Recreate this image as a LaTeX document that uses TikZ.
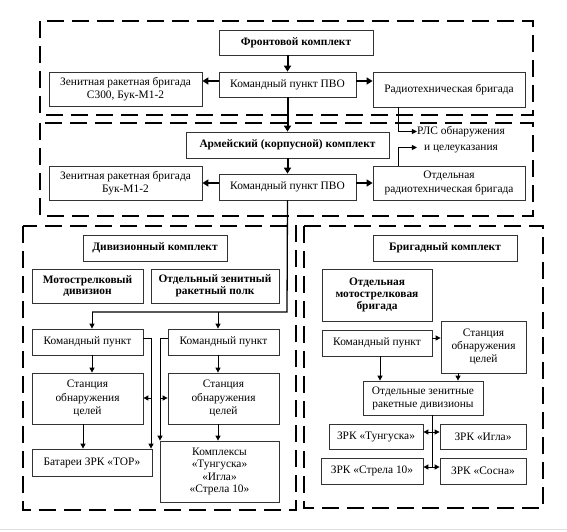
\documentclass[tikz,border=0pt]{standalone}
\usepackage{fontspec}
\setmainfont{Liberation Serif}
\usetikzlibrary{arrows.meta}
\newcommand\bx[6][]{\node[box,#1,minimum width={(#4-#2)*1pt},minimum height={(#5-#3)*1pt}] (#6) at ({(#2+#4)/2},{(#3+#5)/2})}
\tikzset{
  box/.style={draw=black!80,line width=0.8pt,fill=white,align=center,inner sep=1pt,
    font=\fontsize{11.4}{13.6}\selectfont},
  bbox/.style={font=\fontsize{11.4}{11.8}\selectfont\bfseries},
  frame/.style={line width=2.7pt,dash pattern=on 17pt off 8pt},
  thk/.style={line width=2pt,-{Triangle[length=6pt,width=7pt]}},
  thn/.style={line width=1pt,-{Triangle[length=5pt,width=5pt]}},
  ln/.style={line width=1pt},
  lnk/.style={line width=1.3pt},
}
\begin{document}
\begin{tikzpicture}[x=1pt,y=-1pt]
\useasboundingbox (0,0) rectangle (567,531);
\fill[white] (0,0) rectangle (567,531);
\draw[gray!25,line width=1pt] (0,529.5) -- (567,529.5);
% frames
\draw[frame] (40,21) rectangle (533,115);
\draw[frame] (40,123) rectangle (533,216);
\draw[frame] (23,226) rectangle (296,510);
\draw[frame] (304,226) rectangle (543,508);
% front
\bx[bbox]{219}{30}{373}{55}{front} {Фронтовой комплект};
\bx{219}{72}{356}{97}{kp1} {Командный пункт ПВО};
\bx{49}{72}{202}{106}{zen1} {Зенитная ракетная бригада\\С300, Бук-М1-2};
\bx{373}{72}{525}{107}{rt1} {Радиотехническая бригада};
% army
\bx[bbox]{186}{132}{389}{158}{army} {Армейский (корпусной) комплект};
\bx{219}{174}{356}{200}{kp2} {Командный пункт ПВО};
\bx{49}{166}{202}{200}{zen2} {Зенитная ракетная бригада\\Бук-М1-2};
\bx{373}{166}{525}{200}{rt2} {Отдельная\\радиотехническая бригада};
\node[align=center,inner sep=0pt,font=\fontsize{11.4}{15.5}\selectfont] (rls) at (461,139.5) {РЛС обнаружения\\и целеуказания};
% division
\bx[bbox]{83}{235}{227}{261}{div} {Дивизионный комплект};
\bx[bbox]{32}{269}{143}{303}{msd} {Мотострелковый\\дивизион};
\bx[bbox]{151}{269}{279}{303}{ozrp} {Отдельный зенитный\\ракетный полк};
\bx{32}{329}{143}{355}{kpL} {Командный пункт};
\bx{168}{329}{279}{355}{kpR} {Командный пункт};
\bx{32}{373}{143}{424}{stL} {Станция\\обнаружения\\целей};
\bx{168}{373}{279}{424}{stR} {Станция\\обнаружения\\целей};
\bx{32}{449}{152}{476}{bat} {Батареи ЗРК «ТОР»};
\bx[font=\fontsize{11.4}{12.4}\selectfont]{160}{441}{279}{502}{kompl} {Комплексы\\«Тунгуска»\\«Игла»\\«Стрела 10»};
% brigade
\bx[bbox]{373}{235}{517}{261}{brig} {Бригадный комплект};
\bx[bbox]{322}{269}{432}{321}{omsb} {Отдельная\\мотострелковая\\бригада};
\bx{322}{330}{432}{356}{bkp} {Командный пункт};
\bx[font=\fontsize{11.4}{13}\selectfont]{441}{321}{526}{373}{bst} {Станция\\обнаружения\\целей};
\bx[font=\fontsize{11.4}{13}\selectfont]{363}{381}{483}{415}{zd} {Отдельные зенитные\\ракетные дивизионы};
\bx{329}{424}{423}{449}{tung} {ЗРК «Тунгуска»};
\bx{440}{424}{526}{449}{igla} {ЗРК «Игла»};
\bx{321}{458}{423}{484}{strela} {ЗРК «Стрела 10»};
\bx{440}{458}{526}{484}{sosna} {ЗРК «Сосна»};
% coordinates
\coordinate (y1) at (0,81);
\coordinate (y2) at (0,183);
\coordinate (rx) at (398,0);
\coordinate (j) at (287,312);
\coordinate (aL) at (92,312);
\coordinate (aR) at (218,312);
\coordinate (xB) at (83,0);
\coordinate (sL) at (151,338);
\coordinate (sR) at (160,338);
\coordinate (yS) at (0,398);
\coordinate (yb) at (0,338);
\coordinate (x1) at (380,0);
\coordinate (x2) at (458,0);
\coordinate (va) at (432,432);
\coordinate (vb) at (432,467);
% front arrows
\draw[thk] (front.south -| kp1.south) -- (kp1.north);
\draw[thk] (kp1.west |- y1) -- (zen1.east |- y1);
\draw[thk] (kp1.east |- y1) -- (rt1.west |- y1);
\draw[thk] (kp1.south) -- (army.north -| kp1.south);
% army arrows
\draw[thk] (army.south -| kp2.north) -- (kp2.north);
\draw[thk] (kp2.west |- y2) -- (zen2.east |- y2);
\draw[thk] (kp2.east |- y2) -- (rt2.west |- y2);
\draw[thn] (rt1.south -| rx) |- ([yshift=8pt]rls.west);
\draw[thn] (rt2.north -| rx) |- ([yshift=-8pt]rls.west);
% to division
\draw[lnk] (kp2.south) -- (j) -- (aL);
\draw[thn] (aL) -- (aL |- kpL.north);
\draw[thn] (aR) -- (aR |- kpR.north);
\draw[thn] (kpL.south -| aL) -- (stL.north -| aL);
\draw[thn] (stL.south -| xB) -- (bat.north -| xB);
\draw[thn] (kpR.south -| aR) -- (stR.north -| aR);
\draw[thn] (stR.south -| aR) -- (kompl.north -| aR);
\draw[thn] (kpL.east |- sL) -- (sL) -- (sL |- bat.north);
\draw[thn] (sL |- yS) -- (stL.east |- yS);
\draw[thn] (kpR.west |- sR) -- (sR) -- (sR |- kompl.north);
\draw[thn] (sR |- yS) -- (stR.west |- yS);
% brigade arrows
\draw[thn] (bkp.east |- yb) -- (bst.west |- yb);
\draw[thn] (bkp.south -| x1) -- (zd.north -| x1);
\draw[thn] (bst.south -| x2) -- (zd.north -| x2);
\draw[ln] (zd.south -| vb) -- (vb);
\draw[thn] (va) -- (tung.east |- va);
\draw[thn] (va) -- (igla.west |- va);
\draw[thn] (vb) -- (strela.east |- vb);
\draw[thn] (vb) -- (sosna.west |- vb);
\end{tikzpicture}
\end{document}
